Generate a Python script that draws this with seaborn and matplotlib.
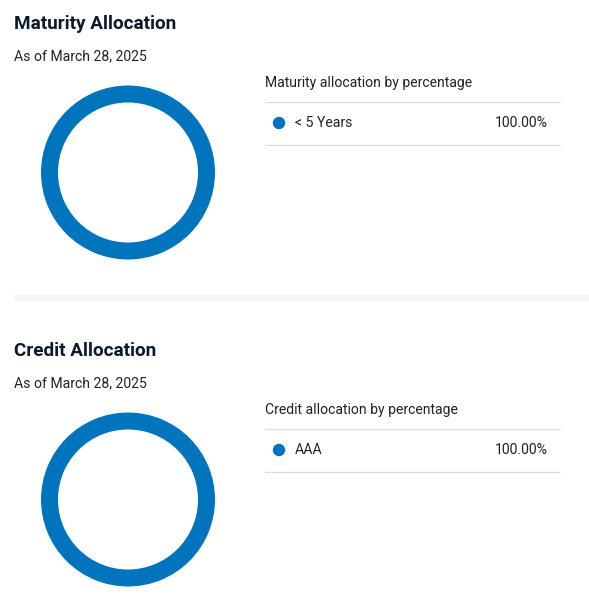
import matplotlib
matplotlib.use("Agg")
import matplotlib.pyplot as plt
import seaborn as sns
from matplotlib.patches import Rectangle, Circle
from matplotlib.lines import Line2D

sns.set_theme(style="white")
plt.rcParams['font.family'] = ['Roboto', 'DejaVu Sans']

# ---- data ----
section_titles = ["Maturity Allocation", "Credit Allocation"]
as_of_dates = ["As of March 28, 2025", "As of March 28, 2025"]
legend_titles = ["Maturity allocation by percentage", "Credit allocation by percentage"]
maturity_labels = ["< 5 Years"]
maturity_values = [100.00]
credit_labels = ["AAA"]
credit_values = [100.00]

BLUE = "#0075BE"
W, H = 589, 601
DPI = 100
fig = plt.figure(figsize=(W / DPI, H / DPI), dpi=DPI)
fig.patch.set_facecolor("white")

def fx(x):
    return x / W

def fy(y):
    return 1 - y / H

sections = [
    (section_titles[0], as_of_dates[0], legend_titles[0], maturity_labels, maturity_values, 0),
    (section_titles[1], as_of_dates[1], legend_titles[1], credit_labels, credit_values, 327),
]

R_OUT = 87
RING = 17
FS = 10.1
for title, asof, ltitle, labels, values, dy in sections:
    fig.text(fx(14), fy(24 + dy), title, fontsize=13.6, fontweight="bold",
             color="#0b1a2b", va="center", ha="left")
    fig.text(fx(14), fy(56 + dy), asof, fontsize=FS, color="#222222",
             va="center", ha="left")
    # donut
    cx, cy = 128, 172.5 + dy
    ax = fig.add_axes([fx(cx - R_OUT), fy(cy + R_OUT), 2 * R_OUT / W, 2 * R_OUT / H])
    ax.pie(values, colors=[BLUE] * len(values), startangle=90, counterclock=False,
           wedgeprops=dict(width=RING / R_OUT, edgecolor="none"))
    ax.set_xlim(-1, 1)
    ax.set_ylim(-1, 1)
    ax.set_aspect("auto")
    ax.axis("off")
    # legend table
    fig.text(fx(265), fy(83 + dy), ltitle, fontsize=FS, color="#222222",
             va="center", ha="left")
    fig.add_artist(Line2D([fx(265), fx(560)], [fy(102 + dy), fy(102 + dy)],
                          color="#dedede", lw=1.0, transform=fig.transFigure))
    for i, (lab, val) in enumerate(zip(labels, values)):
        ry = 123 + dy + i * 43
        fig.add_artist(Circle((279, H - ry), 5.5, color=BLUE,
                              transform=None))
        fig.text(fx(295), fy(ry), lab, fontsize=FS, color="#222222",
                 va="center", ha="left")
        fig.text(fx(548), fy(ry), f"{val:.2f}%", fontsize=FS, color="#222222",
                 va="center", ha="right")
        fig.add_artist(Line2D([fx(265), fx(560)], [fy(145 + dy + i * 43)] * 2,
                              color="#dedede", lw=1.0, transform=fig.transFigure))

# separator band
fig.add_artist(Rectangle((fx(14), fy(301)), 1 - fx(14), 6 / H, color="#f3f4f6",
                         transform=fig.transFigure, lw=0))

fig.savefig("out.png", dpi=DPI, facecolor="white")
